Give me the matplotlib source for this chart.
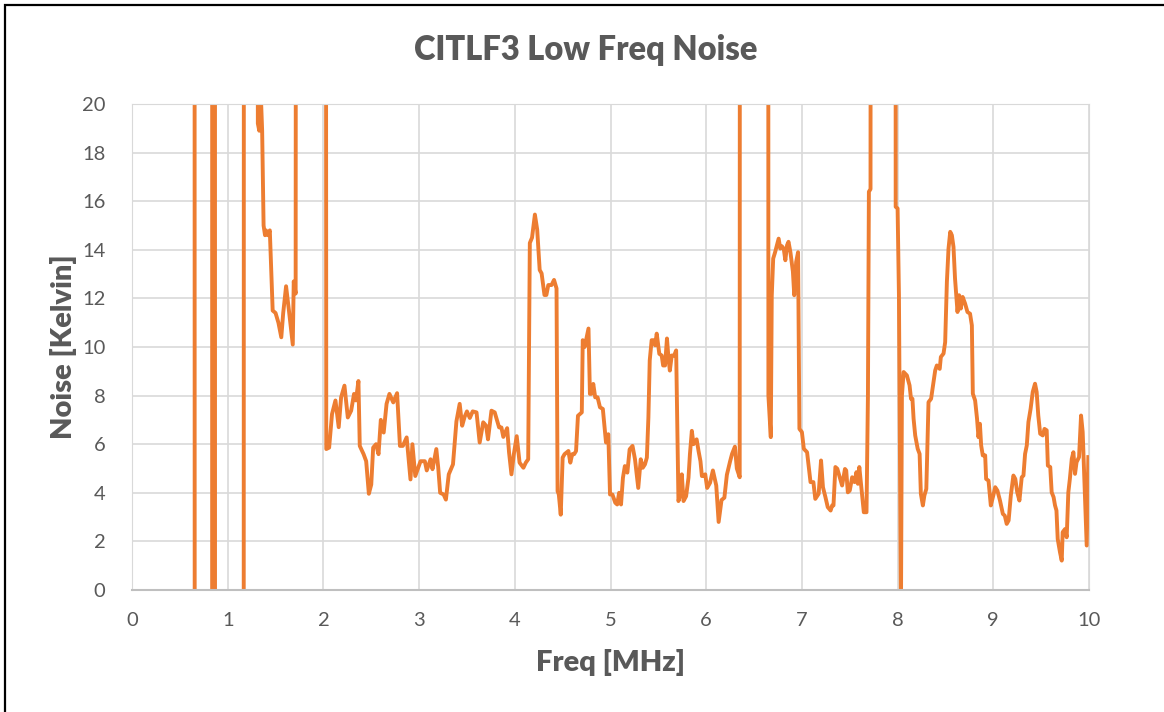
import numpy as np
import matplotlib
matplotlib.use("Agg")
import matplotlib.pyplot as plt
from matplotlib.patches import Rectangle

# frequency [MHz] and noise [K]; 150 / -150 = off scale
freq = [0.60, 0.65, 0.66, 0.835, 0.84, 0.865, 0.87, 1.16, 1.175, 1.30,
        1.315, 1.33, 1.345, 1.36, 1.375, 1.39, 1.40, 1.42, 1.44, 1.47,
        1.50, 1.53, 1.56, 1.58, 1.61, 1.64, 1.68, 1.69, 1.71, 1.73,
        2.01, 2.03, 2.06, 2.09, 2.126, 2.16, 2.185, 2.22, 2.255, 2.29,
        2.32, 2.34, 2.366, 2.38, 2.42, 2.447, 2.475, 2.50, 2.52, 2.55,
        2.576, 2.60, 2.63, 2.66, 2.69, 2.73, 2.77, 2.80, 2.83, 2.87,
        2.91, 2.93, 2.96, 3.015, 3.06, 3.08, 3.12, 3.14, 3.18, 3.20,
        3.22, 3.256, 3.28, 3.31, 3.354, 3.39, 3.424, 3.45, 3.476, 3.50,
        3.53, 3.56, 3.60, 3.633, 3.67, 3.70, 3.72, 3.756, 3.79, 3.836,
        3.86, 3.88, 3.92, 3.94, 3.965, 3.99, 4.02, 4.05, 4.09, 4.115,
        4.14, 4.157, 4.18, 4.21, 4.234, 4.26, 4.28, 4.31, 4.33, 4.35,
        4.384, 4.41, 4.436, 4.447, 4.46, 4.48, 4.50, 4.52, 4.56, 4.58,
        4.60, 4.62, 4.64, 4.66, 4.70, 4.71, 4.73, 4.77, 4.785, 4.80,
        4.82, 4.84, 4.865, 4.89, 4.92, 4.953, 4.977, 4.995, 5.02, 5.05,
        5.07, 5.09, 5.11, 5.13, 5.15, 5.176, 5.20, 5.23, 5.256, 5.29,
        5.316, 5.337, 5.36, 5.38, 5.396, 5.41, 5.43, 5.455, 5.466, 5.483,
        5.51, 5.535, 5.55, 5.57, 5.59, 5.605, 5.62, 5.64, 5.665, 5.686,
        5.71, 5.73, 5.745, 5.763, 5.79, 5.815, 5.83, 5.85, 5.867, 5.90,
        5.92, 5.94, 5.955, 5.97, 5.99, 6.01, 6.04, 6.07, 6.105, 6.13,
        6.16, 6.19, 6.216, 6.25, 6.27, 6.30, 6.32, 6.35, 6.36, 6.64,
        6.65, 6.675, 6.685, 6.70, 6.72, 6.757, 6.774, 6.79, 6.81, 6.827,
        6.845, 6.86, 6.88, 6.906, 6.92, 6.94, 6.96, 6.974, 7.0, 7.02,
        7.054, 7.09, 7.12, 7.14, 7.175, 7.20, 7.22, 7.246, 7.27, 7.30,
        7.316, 7.33, 7.35, 7.37, 7.40, 7.42, 7.45, 7.463, 7.48, 7.50,
        7.525, 7.55, 7.57, 7.585, 7.60, 7.63, 7.647, 7.675, 7.69, 7.70,
        7.717, 7.735, 7.97, 7.98, 8.0, 8.014, 8.035, 8.045, 8.063, 8.097,
        8.125, 8.14, 8.155, 8.167, 8.184, 8.21, 8.23, 8.243, 8.264, 8.28,
        8.30, 8.323, 8.35, 8.37, 8.393, 8.41, 8.44, 8.452, 8.48, 8.497,
        8.515, 8.532, 8.55, 8.567, 8.584, 8.60, 8.626, 8.643, 8.66, 8.68,
        8.705, 8.73, 8.757, 8.776, 8.786, 8.81, 8.83, 8.845, 8.86, 8.873,
        8.89, 8.915, 8.925, 8.95, 8.974, 9.0, 9.02, 9.043, 9.07, 9.1,
        9.12, 9.14, 9.16, 9.183, 9.21, 9.23, 9.25, 9.273, 9.297, 9.315,
        9.332, 9.35, 9.367, 9.39, 9.412, 9.436, 9.453, 9.47, 9.49, 9.517,
        9.535, 9.558, 9.57, 9.595, 9.61, 9.63, 9.645, 9.66, 9.673, 9.697,
        9.715, 9.725, 9.75, 9.767, 9.784, 9.8, 9.82, 9.837, 9.854, 9.87,
        9.896, 9.917, 9.934, 9.958, 9.976, 9.993]

noise = [150, 150, -150, -150, 150, 150, -150, -150, 150, 150,
         19.2, 18.9, 20.5, 18.9, 15.0, 14.6, 14.8, 14.6, 14.8, 11.5,
         11.4, 11.0, 10.4, 11.4, 12.5, 11.5, 10.1, 12.7, 12.2, 150,
         150, 5.8, 5.86, 7.24, 7.8, 6.7, 7.93, 8.41, 7.1, 7.38,
         8.07, 7.8, 8.6, 5.93, 5.59, 5.3, 3.96, 4.34, 5.86, 6.0,
         5.59, 7.0, 6.48, 7.66, 8.07, 7.72, 8.1, 5.93, 5.93, 6.28,
         4.55, 6.0, 4.69, 5.3, 5.3, 4.92, 5.38, 4.97, 5.8, 5.03,
         4.0, 3.93, 3.72, 4.76, 5.17, 6.94, 7.66, 6.76, 7.13, 7.35,
         7.08, 7.35, 7.31, 6.07, 6.9, 6.76, 6.2, 7.38, 7.31, 6.69,
         6.69, 6.3, 6.66, 5.66, 4.76, 5.59, 6.33, 5.24, 5.03, 5.24,
         5.38, 14.28, 14.5, 15.45, 14.83, 13.17, 13.03, 12.14, 12.14, 12.55,
         12.55, 12.76, 12.41, 4.07, 3.93, 3.1, 5.45, 5.59, 5.72, 5.24,
         5.59, 5.59, 5.72, 7.17, 7.31, 10.28, 10.0, 10.76, 8.07, 8.07,
         8.48, 7.93, 7.93, 7.52, 7.45, 6.07, 6.41, 3.93, 3.93, 3.59,
         3.52, 4.0, 3.52, 4.62, 5.1, 4.83, 5.79, 5.93, 5.38, 4.2,
         5.38, 5.03, 5.17, 5.45, 7.1, 9.45, 10.28, 10.28, 10.07, 10.55,
         9.72, 9.65, 9.24, 9.24, 10.35, 9.59, 9.03, 9.65, 9.65, 9.86,
         3.66, 3.93, 4.76, 3.66, 3.86, 4.62, 5.59, 6.55, 6.0, 6.2,
         5.72, 5.3, 4.69, 4.69, 4.76, 4.2, 4.41, 4.92, 4.3, 2.8,
         3.7, 3.8, 4.74, 5.3, 5.6, 5.9, 5.0, 4.64, 150, 150,
         8.0, 6.29, 12.1, 13.64, 13.9, 14.46, 14.05, 14.15, 14.05, 13.57,
         14.19, 14.33, 13.9, 13.1, 12.13, 13.5, 13.9, 6.63, 6.5, 5.81,
         5.67, 4.44, 4.44, 3.75, 3.96, 5.33, 4.23, 3.82, 3.41, 3.27,
         3.48, 3.48, 5.06, 4.99, 4.57, 4.3, 4.98, 4.92, 4.02, 4.09,
         4.64, 4.44, 4.85, 4.37, 5.06, 3.89, 3.2, 3.2, 8.0, 16.39,
         16.5, 150, 150, 15.77, 15.7, 12.13, -1.0, 8.0, 8.97, 8.83,
         8.42, 7.87, 7.87, 7.05, 6.36, 5.81, 5.6, 3.96, 3.48, 3.89,
         4.16, 7.73, 7.87, 8.42, 9.04, 9.24, 9.1, 9.59, 9.73, 10.2,
         12.68, 14.05, 14.74, 14.6, 14.12, 12.82, 11.44, 12.13, 11.58, 12.06,
         11.79, 11.44, 11.37, 10.89, 8.08, 7.8, 7.05, 6.29, 6.84, 5.95,
         5.54, 5.54, 4.57, 4.5, 3.48, 3.89, 4.23, 4.09, 3.68, 3.13,
         3.06, 2.72, 2.86, 3.89, 4.71, 4.57, 4.02, 3.68, 4.64, 4.71,
         5.6, 5.95, 6.91, 7.46, 8.15, 8.49, 8.15, 7.18, 6.43, 6.36,
         6.63, 6.57, 5.12, 5.06, 4.02, 3.82, 3.48, 3.27, 2.1, 1.55,
         1.21, 2.38, 2.51, 2.17, 4.02, 4.57, 5.4, 5.67, 4.78, 5.26,
         5.47, 7.18, 6.5, 3.89, 1.83, 5.47]

xticks = list(range(0, 11))
yticks = list(range(0, 21, 2))

plt.rcParams['font.family'] = ['Lato', 'DejaVu Sans']
grey = '#595959'

fig = plt.figure(figsize=(11.64, 7.12), dpi=100)
ax = fig.add_axes([132/1164, 1-590/712, (1089-132)/1164, (590-104)/712])

ax.plot(freq, noise, color='#ED7D31', lw=2.8, solid_joinstyle='round')

ax.set_xlim(0, 10)
ax.set_ylim(0, 20)
ax.set_xticks(xticks)
ax.set_yticks(yticks)
ax.grid(True, color='#D9D9D9', lw=1.2)
ax.set_axisbelow(True)
ax.tick_params(length=0, labelsize=14.5, labelcolor=grey)
ax.tick_params(axis='x', pad=16)
ax.tick_params(axis='y', pad=19)
for s in ['top', 'right', 'left']:
    ax.spines[s].set_color('#D9D9D9')
ax.spines['bottom'].set_color('#BFBFBF')
ax.spines['bottom'].set_linewidth(1.5)

ax.set_xlabel('Freq [MHz]', fontsize=21, fontweight='heavy', color=grey, labelpad=14)
ax.set_ylabel('Noise [Kelvin]', fontsize=21, fontweight='heavy', color=grey, labelpad=4)
fig.text(586/1164, 1-50/712, 'CITLF3 Low Freq Noise', fontsize=23.5,
         fontweight='heavy', color=grey, ha='center', va='center')

# chart border, only top and left edges fall inside the picture
fig.patches.append(Rectangle((5/1164, -0.1), 1.2, 1-5/712+0.1, transform=fig.transFigure,
                             fill=False, ec='black', lw=1.6))

fig.savefig('out.png', dpi=100)
